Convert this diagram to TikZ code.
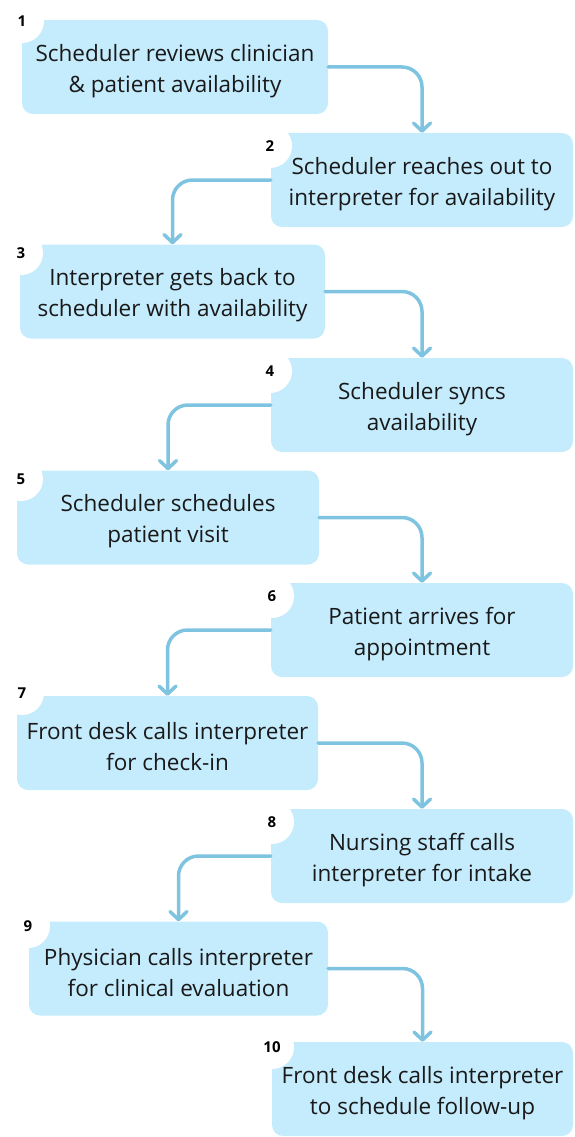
\documentclass[tikz,border=0pt]{standalone}
\usepackage{fontspec}
\setmainfont{Open Sans}
\usetikzlibrary{arrows.meta}
\definecolor{boxfill}{RGB}{197,236,253}
\definecolor{conncol}{RGB}{126,196,224}
\definecolor{txt}{RGB}{25,25,25}
\newcommand\mytopstrut{\rule{0pt}{25pt}}
\tikzset{
  stepbox/.style={fill=boxfill, rounded corners=11pt, minimum height=94pt, inner sep=0pt,
    align=center, text=txt, font=\fontsize{22.5}{31}\selectfont},
  numbadge/.style={circle, fill=white, minimum size=44pt, inner sep=0pt, text=black,
    font=\fontsize{15}{15}\selectfont\bfseries},
  conn/.style={draw=conncol, line width=3.5pt, rounded corners=20pt, line cap=round,
    -{Straight Barb[length=8pt,width=17pt,line width=3.5pt,round]}},
}
\begin{document}
\begin{tikzpicture}[x=1pt,y=-1pt]
\useasboundingbox (0,0) rectangle (574,1137);
\node[stepbox, minimum width=306pt] (b1) at (175,67) {\mytopstrut Scheduler reviews clinician\\\& patient availability};
\node[stepbox, minimum width=302pt] (b2) at (422,180) {\mytopstrut Scheduler reaches out to\\interpreter for availability};
\node[stepbox, minimum width=305pt] (b3) at (172.5,291.5) {\mytopstrut Interpreter gets back to\\scheduler with availability};
\node[stepbox, minimum width=302pt] (b4) at (422,405) {\mytopstrut Scheduler syncs\\availability};
\node[stepbox, minimum width=302pt] (b5) at (168,517.5) {\mytopstrut Scheduler schedules\\patient visit};
\node[stepbox, minimum width=302pt] (b6) at (422,630) {\mytopstrut Patient arrives for\\appointment};
\node[stepbox, minimum width=301pt] (b7) at (167.5,743) {\mytopstrut Front desk calls interpreter\\for check-in};
\node[stepbox, minimum width=302pt] (b8) at (422,856) {\mytopstrut Nursing staff calls\\interpreter for intake};
\node[stepbox, minimum width=299pt] (b9) at (178.5,968.5) {\mytopstrut Physician calls interpreter\\for clinical evaluation};
\node[stepbox, minimum width=301pt] (b10) at (422.5,1089) {\mytopstrut Front desk calls interpreter\\to schedule follow-up};
\node[numbadge] (n1) at (22,21) {1};
\node[numbadge] (n2) at (270,146) {2};
\node[numbadge] (n3) at (21,253) {3};
\node[numbadge] (n4) at (270,371) {4};
\node[numbadge] (n5) at (21,479) {5};
\node[numbadge] (n6) at (272,596) {6};
\node[numbadge] (n7) at (22,693) {7};
\node[numbadge] (n8) at (272,822) {8};
\node[numbadge] (n9) at (28,926) {9};
\node[numbadge] (n10) at (272,1047) {10};
\draw[conn] (b1.east) -| (b2.north);
\draw[conn] (b2.west) -| (b3.north);
\draw[conn] (b3.east) -| (b4.north);
\draw[conn] (b4.west) -| (b5.north);
\draw[conn] (b5.east) -| (b6.north);
\draw[conn] (b6.west) -| (b7.north);
\draw[conn] (b7.east) -| (b8.north);
\draw[conn] (b8.west) -| (b9.north);
\draw[conn] (b9.east) -| (b10.north);
\end{tikzpicture}
\end{document}
